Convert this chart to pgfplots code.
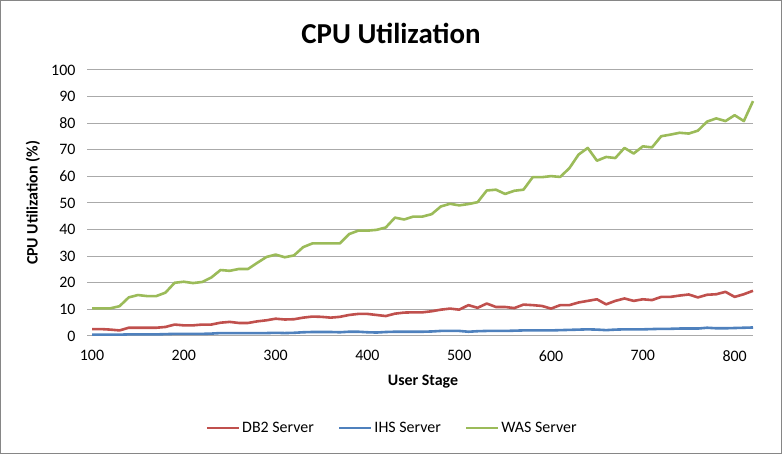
\documentclass[border=0pt]{standalone}
\usepackage{pgfplots}
\pgfplotsset{compat=1.18}
\usepackage{pgfplotstable}
\usepackage{fontspec}
\setmainfont{Carlito}
\definecolor{dbred}{RGB}{192,80,77}
\definecolor{ihsblue}{RGB}{79,129,189}
\definecolor{wasgreen}{RGB}{155,187,89}
\definecolor{gridgray}{RGB}{170,170,170}
\definecolor{bordergray}{RGB}{134,134,134}
\pgfplotstableread{
x db2 ihs was
100 2.6 0.5 10.4
110 2.6 0.5 10.4
120 2.4 0.5 10.4
130 2.1 0.5 11.2
140 3.1 0.6 14.5
150 3.1 0.6 15.4
160 3.1 0.6 15.0
170 3.1 0.6 15.0
180 3.4 0.7 16.3
190 4.3 0.8 20.0
200 4.0 0.8 20.4
210 4.0 0.8 19.9
220 4.3 0.8 20.3
230 4.3 0.9 22.0
240 5.0 1.1 24.8
250 5.3 1.1 24.5
260 4.9 1.1 25.2
270 4.9 1.1 25.2
280 5.5 1.1 27.5
290 5.9 1.1 29.7
300 6.5 1.2 30.6
310 6.2 1.1 29.6
320 6.3 1.2 30.3
330 6.9 1.4 33.4
340 7.3 1.5 34.8
350 7.2 1.5 34.8
360 6.9 1.5 34.8
370 7.2 1.4 34.8
380 7.9 1.6 38.3
390 8.3 1.6 39.6
400 8.3 1.4 39.6
410 7.9 1.3 39.9
420 7.5 1.5 40.8
430 8.4 1.6 44.5
440 8.8 1.6 43.8
450 8.9 1.6 44.9
460 8.9 1.6 44.9
470 9.3 1.7 45.8
480 9.9 1.9 48.7
490 10.3 1.9 49.7
500 9.9 1.9 49.1
510 11.6 1.6 49.6
520 10.6 1.8 50.3
530 12.2 1.9 54.7
540 10.9 1.9 55.0
550 10.9 1.9 53.4
560 10.5 2.0 54.6
570 11.8 2.1 55.0
580 11.6 2.1 59.7
590 11.3 2.1 59.7
600 10.3 2.1 60.1
610 11.6 2.2 59.8
620 11.6 2.3 63.1
630 12.6 2.4 68.2
640 13.2 2.5 70.7
650 13.8 2.4 65.9
660 11.9 2.2 67.3
670 13.2 2.4 66.9
680 14.1 2.5 70.7
690 13.2 2.5 68.6
700 13.8 2.5 71.3
710 13.5 2.6 70.9
720 14.7 2.7 75.1
730 14.7 2.7 75.7
740 15.2 2.8 76.4
750 15.6 2.8 76.1
760 14.5 2.8 77.2
770 15.5 3.1 80.6
780 15.7 2.9 81.8
790 16.6 2.9 80.8
800 14.7 3.0 83.0
810 15.7 3.1 80.8
820 17.0 3.2 88.3
}\cpudata
\begin{document}
\begin{tikzpicture}[x=1bp,y=1bp]
\useasboundingbox (0,0) rectangle (782,454);
\draw[bordergray, line width=1bp] (0.5,0.5) rectangle (781.5,453.5);
\node[font=\fontsize{29}{34}\selectfont\bfseries] at (391,421) {CPU Utilization};
\node[font=\fontsize{16}{19}\selectfont\bfseries, rotate=90] at (33,251) {CPU Utilization (\%)};
\node[font=\fontsize{16}{19}\selectfont\bfseries] at (423,72) {User Stage};
\begin{axis}[
  at={(92bp,118bp)}, anchor=south west,
  scale only axis, width=661bp, height=266bp,
  xmin=100, xmax=820, ymin=0, ymax=100,
  xtick={100,200,...,800}, ytick={0,10,...,100},
  axis lines*=left,
  x axis line style={draw=gridgray, line width=1bp},
  y axis line style={draw=none},
  xtick style={draw=none},
  ytick style={draw=gridgray, line width=1bp},
  tick align=outside, major tick length=5bp,
  ymajorgrids, grid style={gridgray, line width=1bp},
  tick label style={font=\fontsize{16}{19}\selectfont},
  /pgf/number format/assume math mode=true,
  /pgf/number format/1000 sep={},
  yticklabel style={xshift=-8bp},
  xticklabel style={yshift=-6bp},
  legend style={at={(0.454,-0.346)}, anchor=center, draw=none, fill=none,
    legend columns=3, font=\fontsize{16}{19}\selectfont,
    /tikz/every even column/.append style={column sep=22bp}},
  legend image code/.code={\draw[#1] (0bp,0bp) -- (32bp,0bp);},
  clip=false,
]
\addplot[dbred, line width=2.6bp, line join=round] table[x=x, y=db2] {\cpudata};
\addlegendentry{DB2 Server}
\addplot[ihsblue, line width=2.6bp, line join=round] table[x=x, y=ihs] {\cpudata};
\addlegendentry{IHS Server}
\addplot[wasgreen, line width=2.6bp, line join=round] table[x=x, y=was] {\cpudata};
\addlegendentry{WAS Server}
\end{axis}
\end{tikzpicture}
\end{document}
